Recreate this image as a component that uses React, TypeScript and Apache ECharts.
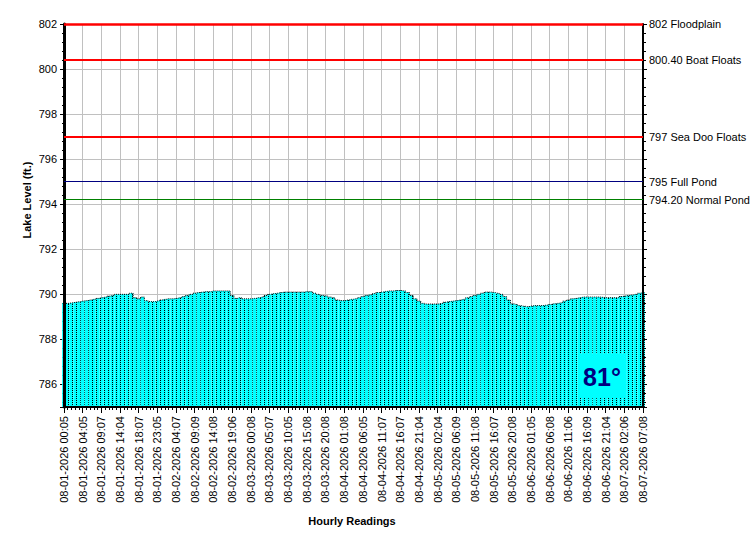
import React, { useEffect, useRef } from "react";
import * as echarts from "echarts";

const tickLabels: string[] = [
  "08-01-2026 00:05", "08-01-2026 04:05", "08-01-2026 09:07", "08-01-2026 14:04",
  "08-01-2026 18:07", "08-01-2026 23:05", "08-02-2026 04:07", "08-02-2026 09:09",
  "08-02-2026 14:08", "08-02-2026 19:06", "08-03-2026 00:08", "08-03-2026 05:07",
  "08-03-2026 10:05", "08-03-2026 15:08", "08-03-2026 20:08", "08-04-2026 01:08",
  "08-04-2026 06:05", "08-04-2026 11:07", "08-04-2026 16:07", "08-04-2026 21:04",
  "08-05-2026 02:04", "08-05-2026 06:09", "08-05-2026 11:08", "08-05-2026 16:07",
  "08-05-2026 20:08", "08-06-2026 01:05", "08-06-2026 06:08", "08-06-2026 11:06",
  "08-06-2026 16:09", "08-06-2026 21:04", "08-07-2026 02:06", "08-07-2026 07:08",
];

const readingsPerLabel = 5;

const lakeLevels: number[] = [
  789.60, 789.60, 789.62, 789.65, 789.67,
  789.70, 789.72, 789.75, 789.78, 789.82,
  789.85, 789.88, 789.92, 789.95, 790.00,
  790.00, 790.00, 790.00, 790.05, 789.85,
  789.80, 789.88, 789.72, 789.68, 789.68,
  789.70, 789.75, 789.78, 789.80, 789.80,
  789.82, 789.85, 789.90, 789.95, 790.00,
  790.05, 790.08, 790.10, 790.12, 790.12,
  790.15, 790.15, 790.15, 790.15, 790.15,
  789.95, 789.82, 789.85, 789.80, 789.80,
  789.80, 789.82, 789.85, 789.88, 789.95,
  790.00, 790.03, 790.05, 790.08, 790.10,
  790.10, 790.10, 790.10, 790.10, 790.10,
  790.12, 790.12, 790.05, 790.00, 789.95,
  789.93, 789.88, 789.85, 789.75, 789.72,
  789.72, 789.75, 789.78, 789.80, 789.85,
  789.90, 789.95, 789.98, 790.03, 790.08,
  790.10, 790.13, 790.15, 790.15, 790.17,
  790.17, 790.15, 790.08, 789.95, 789.80,
  789.70, 789.60, 789.57, 789.57, 789.57,
  789.57, 789.60, 789.65, 789.68, 789.70,
  789.72, 789.75, 789.78, 789.85, 789.90,
  789.95, 790.00, 790.05, 790.10, 790.10,
  790.08, 790.05, 790.00, 789.90, 789.75,
  789.58, 789.55, 789.50, 789.47, 789.45,
  789.48, 789.50, 789.50, 789.50, 789.52,
  789.55, 789.58, 789.60, 789.62, 789.70,
  789.75, 789.80, 789.82, 789.85, 789.88,
  789.88, 789.88, 789.88, 789.88, 789.87,
  789.85, 789.85, 789.85, 789.85, 789.90,
  789.92, 789.95, 789.97, 790.00, 790.05,
  790.08,
];

const refValues: number[] = [802, 800.4, 797, 795, 794.2];
const refNames: string[] = [
  "802 Floodplain",
  "800.40 Boat Floats",
  "797 Sea Doo Floats",
  "795 Full Pond",
  "794.20 Normal Pond",
];
const refColors: string[] = ["#ff0000", "#ff0000", "#ff0000", "#000080", "#008000"];
const refWidths: number[] = [2.5, 2, 2, 1, 1];

const waterTemp = "81°";
const yMin = 785;
const yMax = 802;

const FONT = "Liberation Sans, Arial, sans-serif";

// category names: labelled readings carry the tick label, the others a unique suffix
const categories: string[] = lakeLevels.map((_, i) =>
  i % readingsPerLabel === 0
    ? tickLabels[i / readingsPerLabel]
    : `${tickLabels[Math.floor(i / readingsPerLabel)]} #${i % readingsPerLabel}`
);

export default function App() {
  const ref = useRef<HTMLDivElement>(null);

  useEffect(() => {
    if (!ref.current) return;
    const chart = echarts.init(ref.current, undefined, { renderer: "svg" });

    const option: any = {
      animation: false,
      backgroundColor: "#ffffff",
      grid: { left: 64, right: 107, top: 24, bottom: 143, containLabel: false },
      xAxis: [
        {
          type: "category",
          data: categories,
          boundaryGap: false,
          axisLine: { show: true, lineStyle: { color: "#000", width: 2 } },
          axisTick: { show: true, interval: 0, length: 3, lineStyle: { color: "#000", width: 1 } },
          axisLabel: { show: false },
          splitLine: { show: false },
          z: 5,
        },
        {
          type: "category",
          data: categories,
          boundaryGap: false,
          position: "bottom",
          axisLine: { show: false },
          axisTick: {
            show: true,
            interval: readingsPerLabel - 1,
            length: 6,
            lineStyle: { color: "#000", width: 1 },
          },
          axisLabel: {
            show: true,
            interval: readingsPerLabel - 1,
            rotate: 90,
            margin: 9,
            color: "#000",
            fontSize: 11,
            fontFamily: FONT,
          },
          splitLine: {
            show: true,
            interval: readingsPerLabel - 1,
            lineStyle: { color: "#c0c0c0", width: 1 },
          },
        },
      ],
      yAxis: [
        {
          type: "value",
          min: yMin,
          max: yMax,
          splitNumber: 8,
          position: "left",
          axisLine: { show: false },
          axisTick: { show: true, length: 4, lineStyle: { color: "#000" } },
          minorTick: { show: true, splitNumber: 5, length: 2, lineStyle: { color: "#000" } },
          axisLabel: {
            color: "#000",
            fontSize: 11,
            fontFamily: FONT,
            margin: 7,
            formatter: (v: number) => (v === yMin ? "" : String(v)),
          },
          splitLine: { show: true, lineStyle: { color: "#c0c0c0", width: 1 } },
        },
        {
          type: "value",
          min: yMin,
          max: yMax,
          splitNumber: 8,
          position: "right",
          axisLine: { show: true, lineStyle: { color: "#000", width: 2 } },
          axisTick: { show: true, length: 4, lineStyle: { color: "#000" } },
          minorTick: { show: true, splitNumber: 5, length: 3, lineStyle: { color: "#000" } },
          axisLabel: { show: false },
          splitLine: { show: false },
          z: 5,
        },
        {
          type: "value",
          min: yMin,
          max: yMax,
          position: "left",
          axisLine: { show: true, onZero: false, lineStyle: { color: "#000", width: 3 } },
          axisTick: { show: false },
          axisLabel: { show: false },
          splitLine: { show: false },
          z: 5,
        },
      ],
      series: [
        {
          type: "bar",
          xAxisIndex: 0,
          yAxisIndex: 0,
          data: lakeLevels,
          barCategoryGap: "0%",
          barGap: "0%",
          clip: true,
          z: 2,
          itemStyle: {
            color: "#00ffff",
            borderWidth: 0,
            decal: {
              symbol: "rect",
              symbolSize: 1,
              color: "#000000",
              backgroundColor: "#00ffff",
              dashArrayX: [1, 3],
              dashArrayY: [1, 1],
              rotation: 0,
            },
          },
          emphasis: { disabled: true },
          markLine: {
            silent: true,
            symbol: "none",
            z: 10,
            data: refValues.map((v, i) => ({
              yAxis: v,
              lineStyle: { color: refColors[i], width: refWidths[i], type: "solid" },
              label: {
                show: true,
                position: "end",
                distance: 6,
                formatter: refNames[i],
                color: "#000",
                fontSize: 11,
                fontFamily: FONT,
              },
            })),
          },
        },
        {
          type: "line",
          xAxisIndex: 0,
          yAxisIndex: 0,
          data: lakeLevels,
          step: "middle",
          symbol: "none",
          silent: true,
          z: 3,
          lineStyle: { color: "#000", width: 1, type: "dotted" },
        },
      ],
      graphic: [
        {
          type: "text",
          x: 27,
          y: 200,
          rotation: Math.PI / 2,
          style: {
            text: "Lake Level (ft.)",
            fill: "#000",
            font: `bold 11px ${FONT}`,
            textAlign: "center",
            textVerticalAlign: "middle",
          },
        },
        {
          type: "text",
          x: 352,
          y: 521,
          style: {
            text: "Hourly Readings",
            fill: "#000",
            font: `bold 11px ${FONT}`,
            textAlign: "center",
            textVerticalAlign: "middle",
          },
        },
        {
          type: "rect",
          z: 100,
          shape: { x: 578, y: 354, width: 48, height: 44 },
          style: { fill: "#00ffff" },
        },
        {
          type: "text",
          z: 101,
          x: 602,
          y: 377,
          style: {
            text: waterTemp,
            fill: "#000080",
            font: `bold 25px ${FONT}`,
            textAlign: "center",
            textVerticalAlign: "middle",
          },
        },
      ],
    };

    chart.setOption(option);
    return () => chart.dispose();
  }, []);

  return <div ref={ref} style={{ width: 750, height: 550, position: "absolute", left: 0, top: 0 }} />;
}
